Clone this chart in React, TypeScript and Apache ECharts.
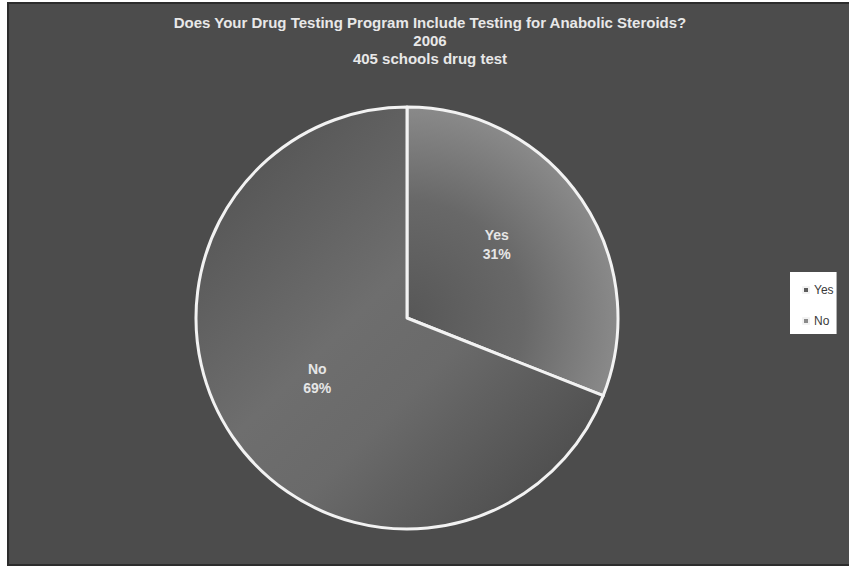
import React, { useEffect, useRef } from "react";
import * as echarts from "echarts";

// Survey answers (percent of the 405 schools that drug test)
const categories = ["Yes", "No"];
const shares = [31, 69];

const titleLines = [
  "Does Your Drug Testing Program Include Testing for Anabolic Steroids?",
  "2006",
  "405 schools drug test",
];

const legendSwatches = ["#5c5c5c", "#8a8a8a"];

export default function App() {
  const ref = useRef<HTMLDivElement>(null);

  useEffect(() => {
    if (!ref.current) return;
    const chart = echarts.init(ref.current, undefined, { renderer: "svg" });

    const fills = [
      new echarts.graphic.RadialGradient(
        407,
        318,
        212,
        [
          { offset: 0, color: "#575757" },
          { offset: 0.55, color: "#686868" },
          { offset: 1, color: "#8a8a8a" },
        ],
        true
      ),
      new echarts.graphic.LinearGradient(
        220,
        140,
        590,
        510,
        [
          { offset: 0, color: "#525252" },
          { offset: 0.42, color: "#6e6e6e" },
          { offset: 0.6, color: "#6a6a6a" },
          { offset: 1, color: "#474747" },
        ],
        true
      ),
    ];

    chart.setOption({
      animation: false,
      backgroundColor: "transparent",
      graphic: [
        {
          type: "rect",
          z: -10,
          silent: true,
          shape: { x: 8, y: 3, width: 842, height: 562 },
          style: { fill: "#4c4c4c", stroke: "#2c2c2c", lineWidth: 2 },
        },
      ],
      title: {
        text: titleLines.join("\n"),
        left: 430,
        top: 13,
        textAlign: "center",
        padding: 0,
        textStyle: {
          color: "#e8e8e8",
          fontFamily: "Liberation Sans, Arial, sans-serif",
          fontWeight: "bold",
          fontSize: 15,
          lineHeight: 18,
        },
      },
      legend: {
        orient: "vertical",
        left: 790,
        top: 272,
        backgroundColor: "#ffffff",
        padding: [12, 3, 7, 12],
        itemWidth: 6,
        itemHeight: 6,
        itemGap: 19,
        icon: "rect",
        selectedMode: false,
        textStyle: {
          color: "#3a3a3a",
          fontFamily: "Liberation Sans, Arial, sans-serif",
          fontSize: 12,
        },
        data: categories.map((name, i) => ({
          name,
          itemStyle: { color: legendSwatches[i] },
        })),
      },
      series: [
        {
          type: "pie",
          center: [407, 318],
          radius: 211,
          startAngle: 90,
          clockwise: true,
          silent: true,
          percentPrecision: 0,
          itemStyle: { borderColor: "#f2f2f2", borderWidth: 3 },
          label: {
            show: true,
            position: "inside",
            formatter: "{b}\n{d}%",
            color: "#e6e6e6",
            fontFamily: "Liberation Sans, Arial, sans-serif",
            fontWeight: "bold",
            fontSize: 14,
            lineHeight: 19,
          },
          // the small slice's label sits a little further out than mid-radius
          labelLayout: (p: any) => (p.dataIndex === 0 ? { dy: -13 } : {}),
          labelLine: { show: false },
          emphasis: { disabled: true },
          data: categories.map((name, i) => ({
            name,
            value: shares[i],
            itemStyle: { color: fills[i] },
          })),
        },
      ],
    });

    return () => chart.dispose();
  }, []);

  return (
    <div
      ref={ref}
      style={{
        position: "absolute",
        left: 0,
        top: 0,
        width: 849,
        height: 574,
        background: "#ffffff",
      }}
    />
  );
}
